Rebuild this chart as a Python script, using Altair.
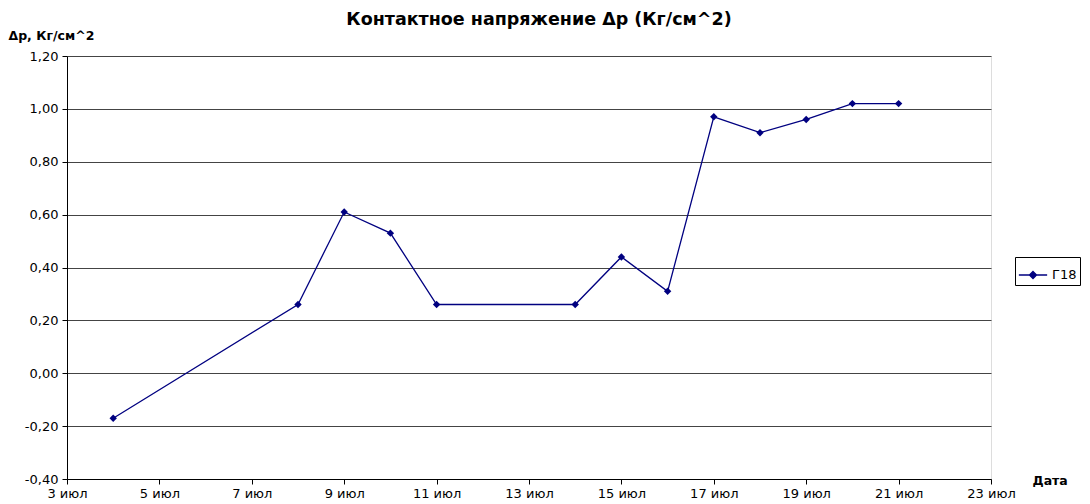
import altair as alt
import pandas as pd

days = [4, 8, 9, 10, 11, 14, 15, 16, 17, 18, 19, 20, 21]
values = [-0.17, 0.26, 0.61, 0.53, 0.26, 0.26, 0.44, 0.31, 0.97, 0.91, 0.96, 1.02, 1.02]
series = "Г18"
x_ticks = [3, 5, 7, 9, 11, 13, 15, 17, 19, 21, 23]
y_ticks = [-0.4, -0.2, 0.0, 0.2, 0.4, 0.6, 0.8, 1.0, 1.2]

df = pd.DataFrame({"day": days, "value": values, "series": [series] * len(days)})

FONT = "DejaVu Sans"
NAVY = "#000080"

x = alt.X(
    "day:Q",
    scale=alt.Scale(domain=[3, 23], nice=False, zero=False),
    axis=alt.Axis(
        values=x_ticks,
        labelExpr="datum.value + ' июл'",
        grid=False,
        title="Дата",
        titleFont=FONT,
        titleFontSize=12.5,
        titleFontWeight="bold",
        titleAlign="left",
        titleBaseline="middle",
        titleAnchor="start",
        titleX=965,
        titleY=1,
        labelFont=FONT,
        labelFontSize=13,
        labelColor="black",
        labelPadding=3,
        tickColor="black",
        tickSize=5,
        domainColor="black",
        labelFlush=False,
        labelOverlap=False,
    ),
)
y = alt.Y(
    "value:Q",
    scale=alt.Scale(domain=[-0.4, 1.2], nice=False, zero=False),
    axis=alt.Axis(
        values=y_ticks,
        labelExpr="replace(replace(format(datum.value, '.2f'), '.', ','), '\u2212', '-')",
        grid=True,
        gridColor="#444444",
        gridWidth=1.2,
        title="Δр, Кг/см^2",
        titleFont=FONT,
        titleFontSize=12.5,
        titleFontWeight="bold",
        titleAngle=0,
        titleAlign="left",
        titleBaseline="middle",
        titleX=-59,
        titleY=-21,
        labelFont=FONT,
        labelFontSize=13,
        labelColor="black",
        labelPadding=4,
        tickColor="black",
        tickSize=5,
        domainColor="black",
        labelFlush=False,
        labelOverlap=False,
    ),
)

color = alt.Color(
    "series:N",
    scale=alt.Scale(range=[NAVY]),
    legend=alt.Legend(
        title=None,
        orient="none",
        legendX=948,
        legendY=201,
        symbolType="M-1,0H1M0,-0.25L0.25,0L0,0.25L-0.25,0Z",
        symbolSize=800,
        symbolStrokeWidth=1.3,
        symbolFillColor=NAVY,
        symbolStrokeColor=NAVY,
        labelFont=FONT,
        labelFontSize=13,
        labelColor="black",
        labelOffset=4,
        strokeColor="black",
        padding=3,
        fillColor="white",
    ),
)

line = alt.Chart(df).mark_line(strokeWidth=1.3).encode(x=x, y=y, color=color)
pts = alt.Chart(df).mark_point(shape="diamond", filled=True, size=55, opacity=1).encode(
    x=x, y=y, color=alt.Color("series:N", scale=alt.Scale(range=[NAVY]), legend=None)
)

chart = (
    alt.layer(line, pts)
    .properties(
        width=924,
        height=423,
        autosize=alt.AutoSizeParams(type="none"),
        padding={"left": 59, "top": 48, "right": 91, "bottom": 25},
        title=alt.TitleParams(
            "Контактное напряжение Δр (Кг/см^2)",
            font=FONT,
            fontSize=17.5,
            fontWeight="bold",
            anchor="middle",
            frame="group",
            dx=10,
            offset=1,
            color="black",
        ),
    )
    .configure_view(stroke="black", strokeWidth=1)
    .configure(background="white")
)

chart.save("out.html", embed_options={"renderer": "svg", "actions": False})
